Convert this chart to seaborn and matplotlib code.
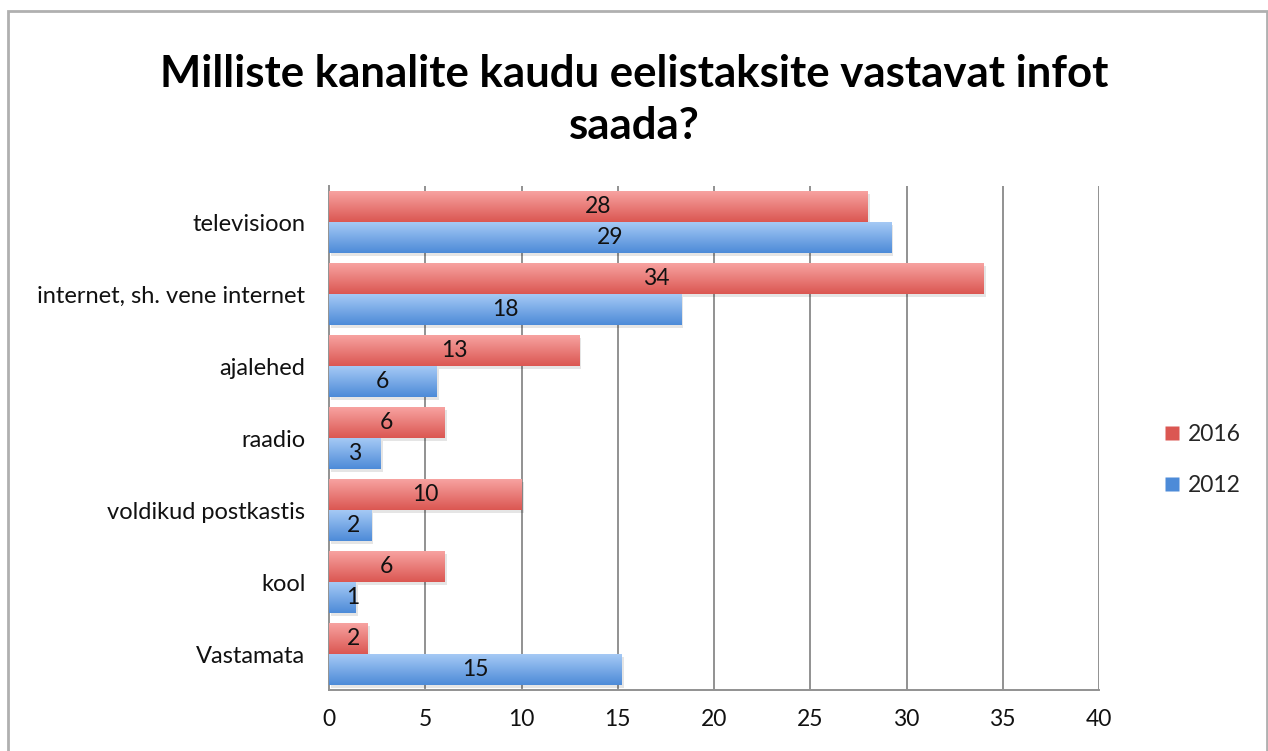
import numpy as np
import pandas as pd
import matplotlib
matplotlib.use("Agg")
import matplotlib.pyplot as plt
import matplotlib.transforms as mtransforms
from matplotlib.patches import Rectangle
from matplotlib.lines import Line2D
import seaborn as sns

categories = ["televisioon", "internet, sh. vene internet", "ajalehed", "raadio",
              "voldikud postkastis", "kool", "Vastamata"]
years = ["2016", "2012"]
values_2016 = [28, 34, 13, 6, 10, 6, 2]
values_2012 = [29.2, 18.3, 5.6, 2.7, 2.2, 1.4, 15.2]
x_ticks = [0, 5, 10, 15, 20, 25, 30, 35, 40]
title = "Milliste kanalite kaudu eelistaksite vastavat infot\nsaada?"

df = pd.DataFrame({
    "kanal": categories * 2,
    "aasta": [years[0]] * len(categories) + [years[1]] * len(categories),
    "vaartus": values_2016 + values_2012,
})

sns.set_theme(style="white")
plt.rcParams["font.family"] = ["Lato", "DejaVu Sans"]

base = {"2016": "#e3625e", "2012": "#5e98e0"}
grad = {"2016": ("#f8a5a3", "#db5752"), "2012": ("#a8cbf6", "#4d8bd8")}

fig = plt.figure(figsize=(12.68, 7.51), dpi=100)
ax = fig.add_axes([329 / 1268, 1 - 690 / 751, (1099 - 329) / 1268, (690 - 186) / 751])

sns.barplot(data=df, y="kanal", x="vaartus", hue="aasta", hue_order=years,
            order=categories, palette=base, orient="h", width=0.87, gap=0,
            legend=False, ax=ax, zorder=3, saturation=1, linewidth=0)

ax.set_xlim(0, 40)
ax.set_ylim(6.5, -0.5)

# gradient + shadow for bars
shadow_off = mtransforms.offset_copy(ax.transData, fig=fig, x=2, y=-3, units="dots")
patches = list(ax.patches)
for p in patches:
    p.set_linewidth(0)
    p.set_edgecolor("none")
    fc = matplotlib.colors.to_hex(p.get_facecolor())
    key = "2016" if fc.lower() == matplotlib.colors.to_hex(base["2016"]).lower() else "2012"
    x0, y0 = p.get_x(), p.get_y()
    w, h = p.get_width(), p.get_height()
    ytop, ybot = min(y0, y0 + h), max(y0, y0 + h)
    sh = Rectangle((x0, y0), w, h, transform=shadow_off, facecolor="#000000",
                   alpha=0.10, edgecolor="none", zorder=2)
    ax.add_patch(sh)
    c1 = np.array(matplotlib.colors.to_rgb(grad[key][0]))
    c2 = np.array(matplotlib.colors.to_rgb(grad[key][1]))
    t = np.linspace(0, 1, 64)[:, None, None]
    img = c1 + (c2 - c1) * t
    im = ax.imshow(img, extent=(x0, x0 + w, ybot, ytop), origin="upper",
                   aspect="auto", zorder=3.5, interpolation="bilinear")
    im.set_clip_path(p)

ax.set_xlim(0, 40)
ax.set_ylim(6.5, -0.5)

# data labels
n = len(categories)
for i in range(n):
    for val, off in ((values_2016[i], -0.2175), (values_2012[i], 0.2175)):
        xpos = max(val / 2, 1.25)
        ax.text(xpos, i + off, f"{round(val)}", ha="center", va="center",
                fontsize=16.5, color="#111111", zorder=5)

# grid & axes styling
ax.set_xticks(x_ticks)
ax.set_xticklabels([str(v) for v in x_ticks])
for v in x_ticks[1:]:
    ax.axvline(v, color="#929292", lw=1.4, zorder=1)
for s in ["top", "right"]:
    ax.spines[s].set_visible(False)
for s in ["left", "bottom"]:
    ax.spines[s].set_color("#929292")
    ax.spines[s].set_linewidth(1.4)
ax.set_yticks(range(n))
ax.set_yticklabels(categories)
ax.set_yticks(np.arange(-0.5, n, 1), minor=True)
ax.tick_params(axis="y", which="major", length=0, pad=17, labelsize=17, labelcolor="#111111")
ax.tick_params(axis="y", which="minor", length=8, width=1.4, color="#929292", direction="out")
ax.tick_params(axis="x", which="major", length=8, width=1.4, color="#929292",
               direction="out", labelsize=16.5, labelcolor="#111111", pad=6)
ax.set_xlabel("")
ax.set_ylabel("")

# title
fig.text(0.5, 1 - 100 / 751, title, ha="center", va="center", fontsize=31.5,
         fontweight="bold", color="#000000", linespacing=1.38)

# legend
handles = [Line2D([], [], marker="s", linestyle="none", markersize=10,
                  markerfacecolor=grad[y][1], markeredgecolor="none") for y in years]
fig.legend(handles, years, loc="center left", bbox_to_anchor=(1140 / 1268, 1 - 460 / 751),
           frameon=False, fontsize=16.5, handletextpad=0.2, labelspacing=1.3,
           handlelength=1.0)

# figure frame
frame = Rectangle((8 / 1268, -0.05), (1267 - 8) / 1268, 1 - 11 / 751 + 0.05,
                  transform=fig.transFigure, fill=False, edgecolor="#b0b0b0", lw=2)
fig.patches.append(frame)

fig.savefig("out.png", dpi=100)
